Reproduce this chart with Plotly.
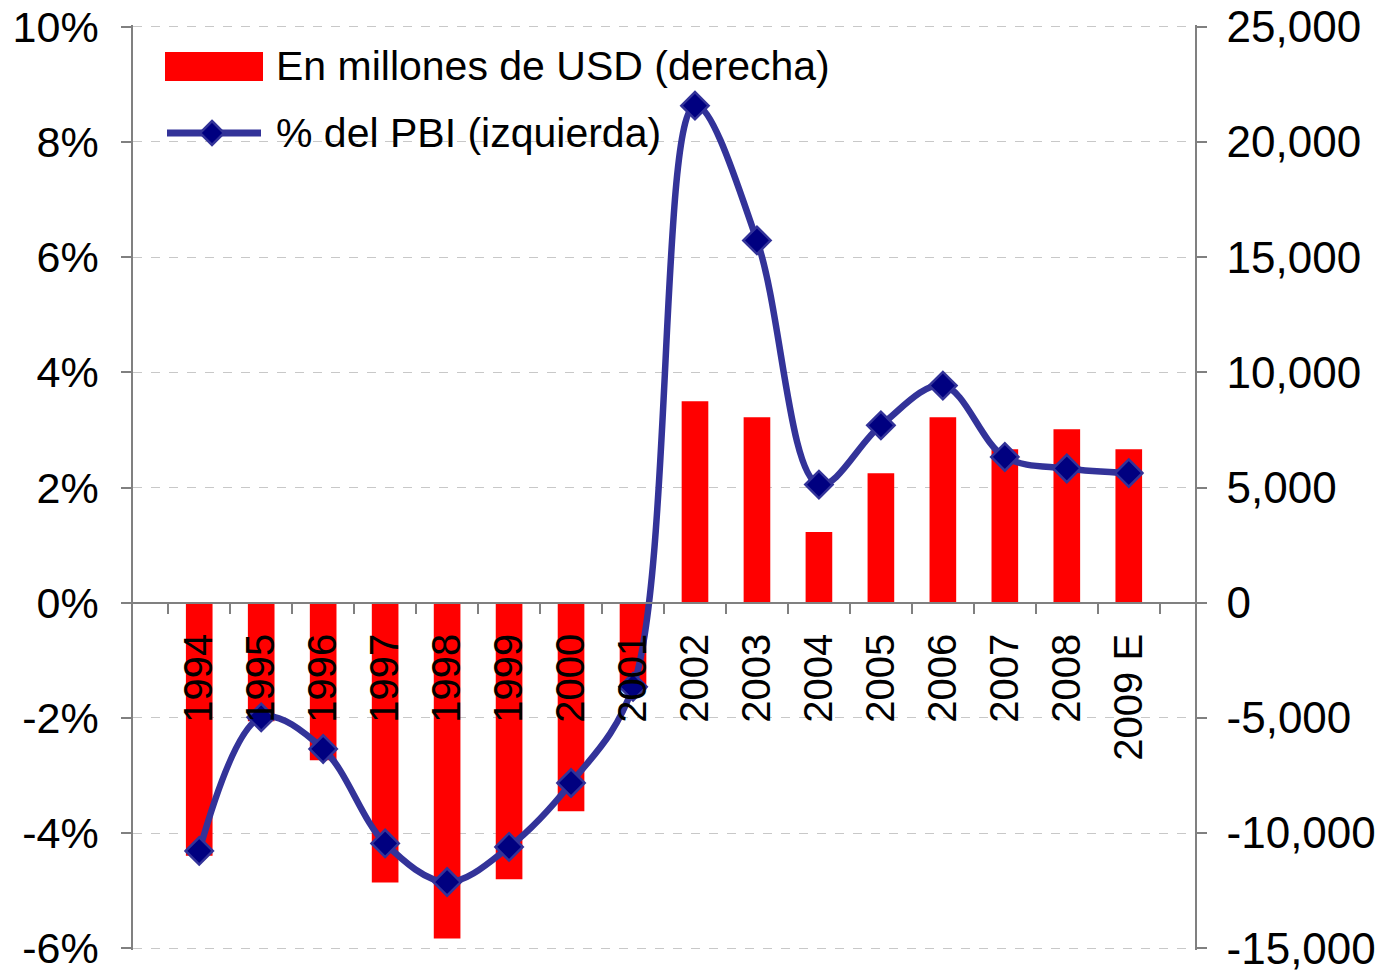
import plotly.graph_objects as go

# data
years = ["1994", "1995", "1996", "1997", "1998", "1999", "2000", "2001",
         "2002", "2003", "2004", "2005", "2006", "2007", "2008", "2009 E"]
usd_millions = [-10980, -5150, -6840, -12150, -14580, -12000, -9050, -3770,
                8740, 8050, 3070, 5620, 8050, 6660, 7530, 6660]
pct_gdp = [-4.31, -1.99, -2.54, -4.18, -4.85, -4.24, -3.13, -1.46,
           8.63, 6.29, 2.05, 3.08, 3.77, 2.53, 2.33, 2.25]

left_ticks = [-6, -4, -2, 0, 2, 4, 6, 8, 10]
left_labels = ["-6%", "-4%", "-2%", "0%", "2%", "4%", "6%", "8%", "10%"]
right_ticks = [-15000, -10000, -5000, 0, 5000, 10000, 15000, 20000, 25000]
right_labels = ["-15,000", "-10,000", "-5,000", "0", "5,000", "10,000",
                "15,000", "20,000", "25,000"]

bar_name = "En millones de USD (derecha)"
line_name = "% del PBI (izquierda)"

FONT = "Liberation Sans"
LINE_COLOR = "#333399"

fig = go.Figure()

# bars -> right-hand axis (primary y, drawn first so the line sits on top)
fig.add_trace(go.Bar(
    x=years, y=usd_millions, yaxis="y",
    marker=dict(color="#FF0000", line=dict(width=0)),
    width=0.43, name=bar_name, showlegend=False,
))

# smoothed line -> left-hand axis (overlaying y2)
fig.add_trace(go.Scatter(
    x=years, y=pct_gdp, yaxis="y2",
    mode="lines+markers",
    line=dict(color=LINE_COLOR, width=6.5, shape="spline", smoothing=1.0),
    marker=dict(symbol="diamond", size=21, color="#000080",
                line=dict(color=LINE_COLOR, width=2.5)),
    name=line_name, showlegend=False,
))

# the page body adds an 8px margin, so the figure is drawn 8px smaller
OFF = 8
W, H = 1383 - OFF, 972 - OFF
# plot area in page pixels: x 133..1195, y 25..950
L, R, T, B = 133 - OFF, 1195 - OFF, 25 - OFF, 950 - OFF

def px(x):
    return (x - OFF - L) / (R - L)

def py(y):
    return (B - (y - OFF)) / (B - T)

# tiny padding so the gridlines at the range ends are still drawn
PAD = 0.0019

# hand-made legend (wide symbols like the original)
shapes = [
    dict(type="rect", xref="paper", yref="paper",
         x0=px(165), x1=px(263), y0=py(81), y1=py(52),
         fillcolor="#FF0000", line=dict(width=0)),
    dict(type="line", xref="paper", yref="paper",
         x0=px(167), x1=px(261), y0=py(133), y1=py(133),
         line=dict(color=LINE_COLOR, width=7)),
    dict(type="path", xref="paper", yref="paper",
         xsizemode="pixel", ysizemode="pixel",
         xanchor=px(212), yanchor=py(133),
         path="M0,12 L12,0 L0,-12 L-12,0 Z",
         fillcolor="#000080", line=dict(color=LINE_COLOR, width=2.5)),
]
annotations = [
    dict(text=bar_name, xref="paper", yref="paper", x=px(274), y=py(66),
         xanchor="left", yanchor="middle", showarrow=False,
         font=dict(family=FONT, size=41, color="black")),
    dict(text=line_name, xref="paper", yref="paper", x=px(274), y=py(133),
         xanchor="left", yanchor="middle", showarrow=False,
         font=dict(family=FONT, size=41, color="black")),
]

axis_line = dict(showline=True, linecolor="#808080", linewidth=1.5,
                 ticks="outside", ticklen=10, tickcolor="#808080", tickwidth=1.5,
                 zeroline=False, automargin=False, ticklabeloverflow="allow")

r_lo, r_hi = -15000, 25000
l_lo, l_hi = -6, 10
r_pad = (r_hi - r_lo) * PAD
l_pad = (l_hi - l_lo) * PAD

fig.update_layout(
    width=W, height=H,
    margin=dict(l=L, r=W - R, t=T, b=H - B),
    paper_bgcolor="white", plot_bgcolor="white",
    showlegend=False,
    shapes=shapes,
    annotations=annotations,
    xaxis=dict(
        type="category",
        anchor="free", position=6 / 16,
        tickson="boundaries",
        tickangle=-90, ticklabelstandoff=14,
        tickfont=dict(family=FONT, size=40, color="black"),
        showgrid=False,
        **axis_line,
    ),
    yaxis=dict(
        range=[r_lo - r_pad, r_hi + r_pad], side="right",
        tickvals=right_ticks, ticktext=right_labels,
        ticklabelstandoff=11,
        tickfont=dict(family=FONT, size=44, color="black"),
        showgrid=True, gridcolor="#c8c8c8", gridwidth=1, griddash="dash",
        **axis_line,
    ),
    yaxis2=dict(
        range=[l_lo - l_pad, l_hi + l_pad], side="left", overlaying="y",
        tickvals=left_ticks, ticktext=left_labels,
        ticklabelstandoff=14,
        tickfont=dict(family=FONT, size=43, color="black"),
        showgrid=False,
        **axis_line,
    ),
)

fig.write_html("out.html")
